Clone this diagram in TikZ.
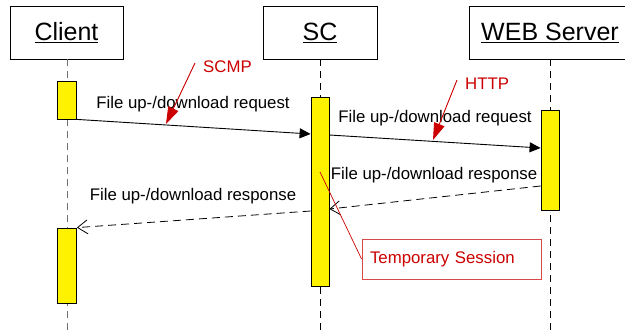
\documentclass[tikz,border=0pt]{standalone}
\usepackage{fontspec}
\setmainfont{Liberation Sans}
\usetikzlibrary{arrows.meta}
\definecolor{redtxt}{HTML}{CC0000}
\definecolor{redbox}{HTML}{D84848}
\definecolor{lifegray}{HTML}{707070}
\begin{document}
\begin{tikzpicture}[x=1pt,y=-1pt,
  head/.style={draw=black, fill=white, line width=0.8pt, minimum height=53pt, inner sep=0pt, font=\fontsize{25}{30}\selectfont},
  act/.style={draw=black, fill=yellow, line width=0.8pt, inner sep=0pt},
  life/.style={dash pattern=on 7pt off 5pt, line width=0.8pt},
  msg/.style={font=\fontsize{16.8}{20}\selectfont, inner sep=0pt},
  req/.style={line width=0.9pt, -{Triangle[length=11pt,width=10pt]}},
  resp/.style={line width=0.8pt, dash pattern=on 8pt off 5pt, -{Straight Barb[length=10pt,width=14pt,line width=0.8pt]}},
  note/.style={draw=redtxt, fill=redtxt, line width=0.9pt, -{Triangle[length=17pt,width=11pt]}},
  redlbl/.style={text=redtxt, font=\fontsize{16.8}{20}\selectfont, inner sep=0pt},
  sessbox/.style={draw=redbox, fill=white, line width=0.9pt, text width=163pt, align=left, inner xsep=8pt, minimum height=40pt, text=redtxt, font=\fontsize{16.8}{20}\selectfont}
]
\useasboundingbox (0,0) rectangle (625,333);
\clip (0,0) rectangle (625,333);

% headers
\node[head, minimum width=113pt] (client) at (66.5,32.5) {\underline{Client}};
\node[head, minimum width=114pt] (sc) at (320,32.5) {\underline{SC}};
\node[head, minimum width=162pt] (web) at (550,32.5) {\underline{WEB Server}};

% lifeline ends
\coordinate (clientend) at (67,340);
\coordinate (scend) at (320,340);
\coordinate (webend) at (550,340);
\draw[life, lifegray] (client.south -| 67,0) -- (clientend);
\draw[life] (sc.south) -- (scend);
\draw[life] (web.south) -- (webend);

% activation bars
\node[act, minimum width=19pt, minimum height=38pt] (c1) at (67,100) {};
\node[act, minimum width=19pt, minimum height=75pt] (c2) at (67,265.5) {};
\node[act, minimum width=18pt, minimum height=189pt] (sca) at (320,191.5) {};
\node[act, minimum width=18pt, minimum height=100pt] (weba) at (550,160) {};

% message end points
\coordinate (m1e) at (sca.west |- 0,134);
\coordinate (m2s) at (sca.east |- 0,135);
\coordinate (m2e) at (weba.west |- 0,148);
\coordinate (r1s) at (weba.west |- 0,186);
\coordinate (r1e) at (sca.east |- 0,209);
\coordinate (r2s) at (sca.west |- 0,211);

\draw[req] (c1.south east) -- (m1e);
\draw[req] (m2s) -- (m2e);
\draw[resp] (r1s) -- (r1e);
\draw[resp] (r2s) -- (c2.north east);

% message labels
\node[msg] (l1) at (193,104) {File up-/download request};
\node[msg] (l2) at (435,118) {File up-/download request};
\node[msg] (l3) at (434,175) {File up-/download response};
\node[msg] (l4) at (193,196) {File up-/download response};

% protocol notes
\node[redlbl, anchor=west] (scmp) at (203,67) {SCMP};
\node[redlbl, anchor=west] (http) at (465,84) {HTTP};
\coordinate (scmps) at (195,63);
\coordinate (scmpt) at (166,124);
\coordinate (https) at (457,80);
\coordinate (httpt) at (433,140);
\draw[note] (scmps) -- (scmpt);
\draw[note] (https) -- (httpt);

% temporary session
\node[sessbox] (ts) at (451.5,259) {Temporary Session};
\coordinate (tsp) at (320,172);
\draw[redtxt, line width=0.7pt] (ts.west) -- (tsp);
\end{tikzpicture}
\end{document}
